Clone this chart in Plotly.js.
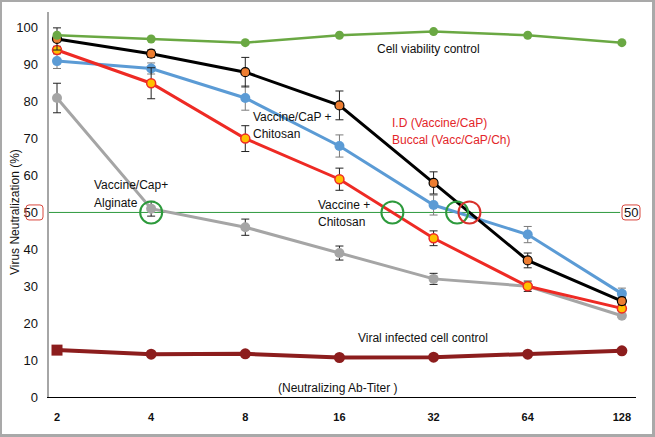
<!DOCTYPE html>
<html>
<head>
<meta charset="utf-8">
<script src="https://cdn.plot.ly/plotly-3.0.1.min.js"></script>
<style>
  html, body { margin: 0; padding: 0; background: #fff; }
  #wrap { position: relative; width: 655px; height: 437px; }
  #chart { width: 655px; height: 437px; }
  #frame { position: absolute; left: 0; top: 0; width: 655px; height: 437px; box-sizing: border-box;
           border: 2px solid #a9a9a9; border-right-width: 3px; border-bottom-width: 3px; pointer-events: none; }
</style>
</head>
<body>
<div id="wrap"><div id="chart"></div><div id="frame"></div></div>
<script>
// ---- data ----
const titers = ['2', '4', '8', '16', '32', '64', '128'];
const cellViability = [98, 97, 96, 98, 99, 98, 96];
const blackSeries = [97, 93, 88, 79, 58, 37, 26];
const blackErr = [3, 1, 4, 3.9, 3, 2, 1];
const blueSeries = [91, 89, 81, 68, 52, 44, 28];
const blueErr = [2, 1.5, 3.3, 3, 2.7, 2.2, 1.5];
const redSeries = [94, 85, 70, 59, 43, 30, 24];
const redErr = [1, 4.2, 3.5, 3, 2, 1.4, 0.5];
const graySeries = [81, 51, 46, 39, 32, 30, 22];
const grayErr = [4, 2, 2.2, 1.9, 1.5, 0.5, 0.5];
const viralControl = [12.7, 11.6, 11.7, 10.7, 10.8, 11.6, 12.5];
const yTicks = [0, 10, 20, 30, 40, 50, 60, 70, 80, 90, 100];
const halfLevel = 50;

// ---- helpers ----
function crossIndex(arr, level) {
  for (let i = 0; i < arr.length - 1; i++) {
    if (arr[i] >= level && arr[i + 1] < level) return i + (arr[i] - level) / (arr[i] - arr[i + 1]);
  }
  return null;
}
function roundRectPath(x0, x1, y0, y1, r) {
  return `M ${x0 + r},${y0} L ${x1 - r},${y0} Q ${x1},${y0} ${x1},${y0 + r} L ${x1},${y1 - r} Q ${x1},${y1} ${x1 - r},${y1} ` +
         `L ${x0 + r},${y1} Q ${x0},${y1} ${x0},${y1 - r} L ${x0},${y0 + r} Q ${x0},${y0} ${x0 + r},${y0} Z`;
}

const FONT = 'Liberation Sans, Arial, sans-serif';

function errBar(arr, color) {
  return { type: 'data', array: arr, visible: true, color: color, thickness: 1, width: 4 };
}

const traces = [
  { x: titers, y: viralControl, mode: 'lines+markers', type: 'scatter',
    line: { color: '#8c1d1d', width: 4 },
    marker: { color: '#8c1d1d', size: 11, symbol: ['square', 'circle', 'circle', 'circle', 'circle', 'circle', 'circle'] } },
  { x: titers, y: graySeries, mode: 'lines+markers', type: 'scatter', error_y: errBar(grayErr, '#222'),
    line: { color: '#a5a5a5', width: 3 }, marker: { color: '#a5a5a5', size: 10 } },
  { x: titers, y: blueSeries, mode: 'lines+markers', type: 'scatter', error_y: errBar(blueErr, '#7a7a7a'),
    line: { color: '#5b9bd5', width: 3 }, marker: { color: '#5b9bd5', size: 10 } },
  { x: titers, y: redSeries, mode: 'lines+markers', type: 'scatter', error_y: errBar(redErr, '#222'),
    line: { color: '#ee2a24', width: 3 }, marker: { color: '#ffc000', size: 9, line: { color: '#ee2a24', width: 1.5 } } },
  { x: titers, y: blackSeries, mode: 'lines+markers', type: 'scatter', error_y: errBar(blackErr, '#222'),
    line: { color: '#000000', width: 3 }, marker: { color: '#ed7d31', size: 9, line: { color: '#000', width: 1.2 } } },
  { x: titers, y: cellViability, mode: 'lines+markers', type: 'scatter',
    line: { color: '#6aa843', width: 2.5 }, marker: { color: '#6aa843', size: 9 } }
];

// circles highlighting where curves cross 50 %
const circleSpecs = [
  { x: Math.round(crossIndex(graySeries, halfLevel)), color: '#2d9a3c' },
  { x: crossIndex(redSeries, halfLevel), color: '#2d9a3c' },
  { x: crossIndex(blueSeries, halfLevel), color: '#2d9a3c' },
  { x: crossIndex(blackSeries, halfLevel), color: '#d8312b' }
];

const shapes = [
  { type: 'line', xref: 'paper', yref: 'y', x0: 0, x1: 0.973, y0: halfLevel, y1: halfLevel,
    line: { color: '#2e9a3e', width: 1 }, layer: 'below' }
];
circleSpecs.forEach(c => {
  shapes.push({ type: 'circle', xref: 'x', yref: 'y', xsizemode: 'pixel', ysizemode: 'pixel',
    xanchor: c.x, yanchor: halfLevel, x0: -11, x1: 11, y0: -11, y1: 11,
    line: { color: c.color, width: 2 }, fillcolor: 'rgba(0,0,0,0)' });
});
// rounded boxes around the two "50" labels
shapes.push({ type: 'path', xref: 'paper', yref: 'y', xsizemode: 'pixel', ysizemode: 'pixel',
  xanchor: 0, yanchor: halfLevel, path: roundRectPath(-23, -6, -7.5, 7.5, 3),
  line: { color: '#d9463c', width: 1 } });
shapes.push({ type: 'path', xref: 'paper', yref: 'y', xsizemode: 'pixel', ysizemode: 'pixel',
  xanchor: 0.9915, yanchor: halfLevel, path: roundRectPath(-9, 9, -7.5, 7.5, 3),
  line: { color: '#d9463c', width: 1 } });

function px(xp) { return (xp - 49) / 587; }
function py(yp) { return (397 - yp) / 385; }
function label(text, x, y, color) {
  return { text: text, xref: 'paper', yref: 'paper', x: px(x), y: py(y), xanchor: 'left', yanchor: 'middle',
    align: 'left', showarrow: false, font: { family: FONT, size: 12, color: color || '#111' } };
}

const annotations = [
  label('Cell viability control', 375, 49),
  label('Vaccine/CaP +', 251, 117),
  label('Chitosan', 251, 134),
  label('I.D (Vaccine/CaP)', 390, 123, '#e3262a'),
  label('Buccal (Vacc/CaP/Ch)', 390, 140, '#e3262a'),
  label('Vaccine/Cap+', 92, 185),
  label('Alginate', 92, 203),
  label('Vaccine +', 316, 205),
  label('Chitosan', 316, 222),
  label('Viral infected cell control', 356, 338),
  label('(Neutralizing Ab-Titer )', 276, 388),
  { text: '50', xref: 'paper', yref: 'y', x: 0.9915, y: halfLevel, xanchor: 'center', yanchor: 'middle',
    showarrow: false, font: { family: FONT, size: 13, color: '#111' } },
  { text: 'Virus Neutralization (%)', xref: 'paper', yref: 'paper', x: px(15), y: py(212), textangle: -90,
    xanchor: 'center', yanchor: 'middle', showarrow: false, font: { family: FONT, size: 12, color: '#111' } }
];

const layout = {
  width: 655, height: 437,
  margin: { l: 49, r: 19, t: 12, b: 40, pad: 0 },
  paper_bgcolor: '#fff', plot_bgcolor: '#fff',
  showlegend: false,
  xaxis: { type: 'category', range: [-0.085, 6.15], showgrid: false, zeroline: false,
    showline: true, linecolor: '#000', linewidth: 1, ticks: '', ticklabelstandoff: 10,
    tickfont: { family: FONT, size: 11, color: '#111', weight: 'bold' } },
  yaxis: { range: [0, 104.3], tickvals: yTicks, showgrid: false, zeroline: false,
    showline: true, linecolor: '#a6a6a6', linewidth: 2.5, ticks: '', ticklabelstandoff: 6,
    tickfont: { family: FONT, size: 13, color: '#111' } },
  shapes: shapes,
  annotations: annotations
};

Plotly.newPlot('chart', traces, layout, { staticPlot: true, displayModeBar: false });
</script>
</body>
</html>
